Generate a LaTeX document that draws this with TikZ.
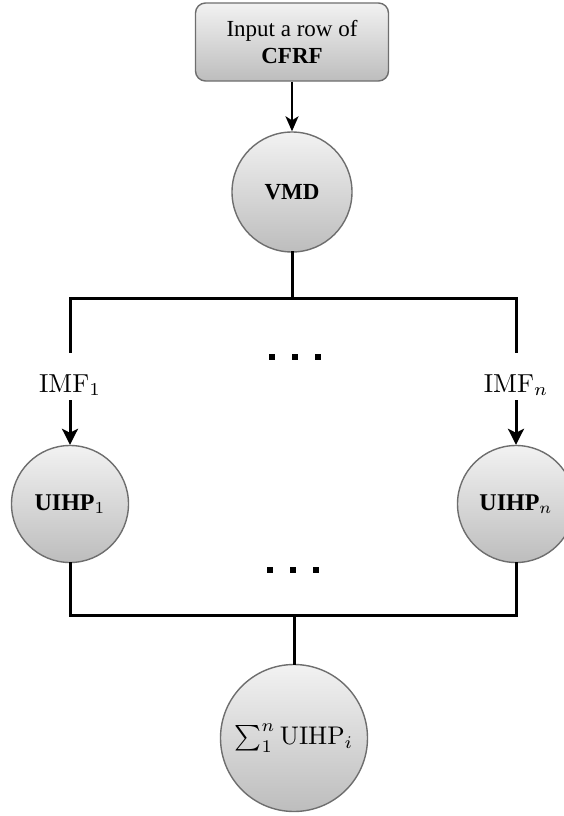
\documentclass[tikz,border=0pt]{standalone}
\usepackage[no-math]{fontspec}
\setmainfont{Liberation Serif}
\usetikzlibrary{arrows.meta}

\definecolor{rimgray}{HTML}{6E6E6E}
\definecolor{shadetop}{HTML}{F2F2F2}
\definecolor{shadebot}{HTML}{BDBDBD}

% math-bearing labels are set at 10pt and enlarged as a whole
\newcommand{\bigtext}[2]{\scalebox{#1}{\fontsize{10}{12}\selectfont #2}}

\tikzset{
  inputbox/.style={draw=rimgray, line width=1.4pt, rounded corners=10pt,
    top color=shadetop, bottom color=shadebot, minimum width=193pt,
    minimum height=78pt, align=center, inner sep=0pt, font=\fontsize{23}{27}\selectfont},
  stage/.style={circle, draw=rimgray, line width=1.4pt, top color=shadetop,
    bottom color=shadebot, inner sep=0pt},
  wire/.style={line width=3pt, line cap=rect},
  thinarrow/.style={line width=2pt, -{Stealth[length=15pt,width=13pt,inset=4pt]}},
  thickarrow/.style={line width=3pt, -{Stealth[length=16pt,width=16pt,inset=4pt]}},
  imflabel/.style={inner sep=0pt, text height=40pt, text depth=8pt},
  sqdot/.style={fill=black, inner sep=0pt, minimum size=6pt, rectangle},
}

\begin{document}
\begin{tikzpicture}[x=1pt, y=-1pt]
  \useasboundingbox (0,0) rectangle (563,816);

  % input and decomposition
  \node[inputbox] (inp) at (292,42) {Input a row of\\\textbf{CFRF}};
  \node[stage, minimum size=120pt, font=\fontsize{23}{25}\selectfont] (vmd) at (292,192) {\textbf{VMD}};
  \draw[thinarrow] (inp.south) -- (vmd.north);

  % split into the IMF branches
  \coordinate (split) at (293,298);
  \coordinate (sl) at (70,298);
  \coordinate (sr) at (516,298);
  \draw[wire] (vmd.south) -- (vmd.south |- split);
  \draw[wire] (sl) -- (sr);

  \node[imflabel] (imf1) at (70,376) {\bigtext{2.6}{$\mathrm{IMF}_1$}};
  \node[imflabel] (imfn) at (516,376) {\bigtext{2.6}{$\mathrm{IMF}_n$}};
  \draw[wire] (sl) -- (imf1.north);
  \draw[wire] (sr) -- (imfn.north);

  % per-mode stages
  \node[stage, minimum size=117pt] (u1) at (70,504) {\bigtext{2.4}{\textbf{UIHP}$_1$}};
  \node[stage, minimum size=117pt] (un) at (516,504) {\bigtext{2.4}{\textbf{UIHP}$_n$}};
  \draw[thickarrow] (imf1.south) -- (u1.north);
  \draw[thickarrow] (imfn.south) -- (un.north);

  % merge
  \coordinate (ml) at (70,615);
  \coordinate (mr) at (516,615);
  \draw[wire] (u1.south) -- (ml) -- (mr) -- (un.south);

  \node[stage, minimum size=147pt] (sum) at (294,738) {\bigtext{2.55}{$\sum_1^n \mathrm{UIHP}_i$}};
  \coordinate (merge) at (sum.north |- ml);
  \draw[wire] (merge) -- (sum.north);

  % ellipsis marks between the branches
  \node[sqdot] (d1) at (272,357) {};
  \node[sqdot] (d2) at (295,357) {};
  \node[sqdot] (d3) at (318,357) {};
  \node[sqdot] (d4) at (270,570) {};
  \node[sqdot] (d5) at (293,570) {};
  \node[sqdot] (d6) at (316,570) {};
\end{tikzpicture}
\end{document}
